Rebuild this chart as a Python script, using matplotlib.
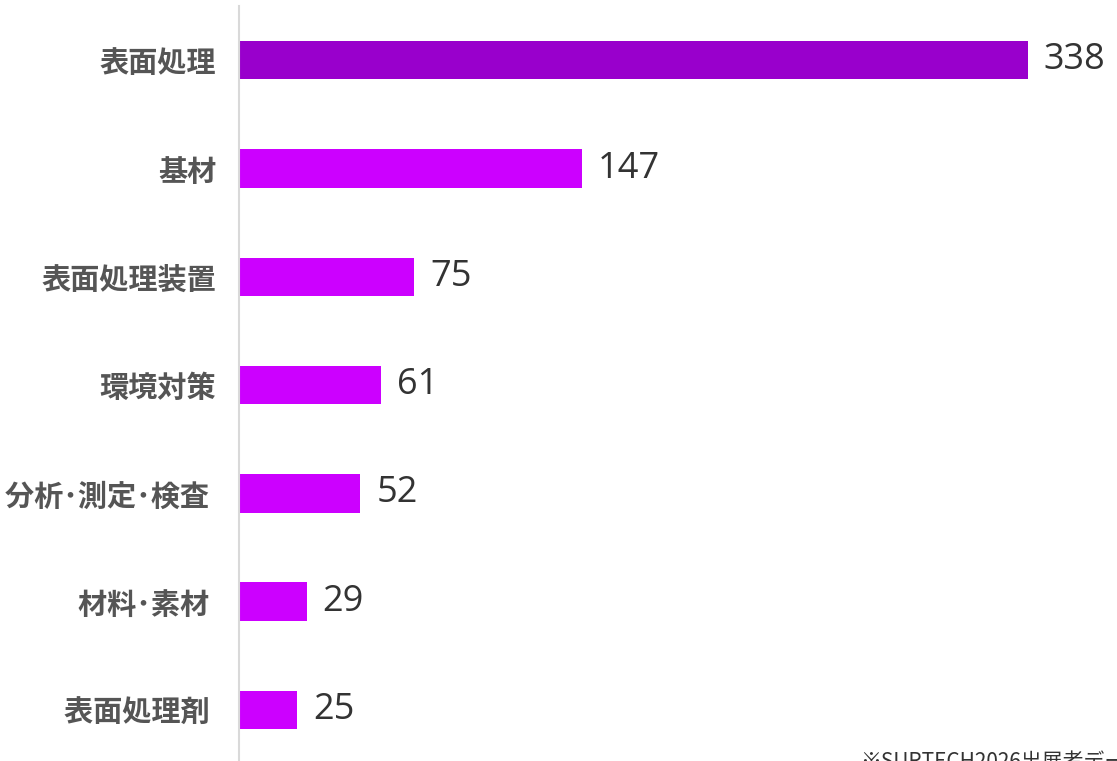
import matplotlib
matplotlib.use("Agg")
import matplotlib.pyplot as plt

plt.rcParams['font.family'] = ['Noto Sans CJK JP', 'DejaVu Sans']

categories = ["表面処理", "基材", "表面処理装置", "環境対策", "分析･測定･検査 ", "材料･素材 ", "表面処理剤 "]
values = [338, 147, 75, 61, 52, 29, 25]
colors = ["#9900CC", "#CC00FF", "#CC00FF", "#CC00FF", "#CC00FF", "#CC00FF", "#CC00FF"]
footnote = "※SURTECH2026出展者データ"

fig = plt.figure(figsize=(11.17, 7.61), dpi=100)
ax = fig.add_axes([0.214, -0.004, 0.773, 0.996])

y = list(range(len(categories)))
ax.barh(y, values, height=0.355, color=colors)
ax.set_ylim(len(categories) - 0.5, -0.5)
ax.set_xlim(0, 370)

for yi, v in zip(y, values):
    ax.annotate(str(v), (v, yi), xytext=(16, 0), textcoords="offset pixels",
                ha="left", va="center", fontsize=26, color="#333333", fontweight="medium",
                family=["Open Sans", "DejaVu Sans"])

ax.set_yticks(y)
ax.set_yticklabels(categories, fontsize=21, color="#555555", fontweight="bold")
ax.tick_params(axis="y", length=0, pad=16.5)
ax.set_xticks([])
for s in ["top", "right", "bottom"]:
    ax.spines[s].set_visible(False)
ax.spines["left"].set_color("#D9D9D9")
ax.spines["left"].set_linewidth(1.5)

fig.text(860 / 1117, 1 - 768 / 761, footnote, fontsize=15, color="#333333", ha="left", va="baseline")

fig.savefig("out.png", dpi=100)
